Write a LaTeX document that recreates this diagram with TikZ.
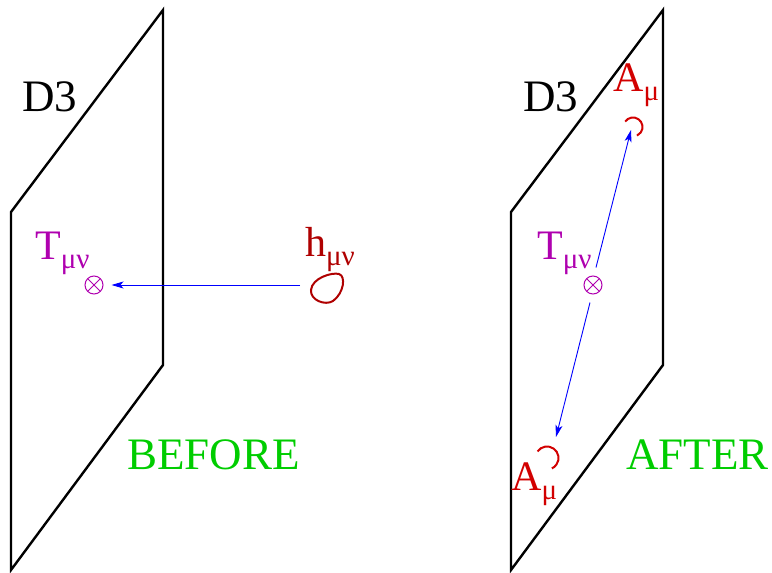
\documentclass[tikz,border=0pt]{standalone}
\usepackage{fontspec}
\setmainfont{Liberation Serif}
\usetikzlibrary{arrows.meta}
\definecolor{mag}{RGB}{175,0,175}
\definecolor{dred}{RGB}{175,0,0}
\definecolor{ared}{RGB}{210,0,0}
\definecolor{grn}{RGB}{0,205,0}
\definecolor{blu}{RGB}{0,0,255}
\newcommand{\subtxt}[1]{\raisebox{-9pt}{\fontsize{29}{32}\selectfont #1}}
\tikzset{
  plane/.style={line width=2.4pt, black},
  big/.style={font=\fontsize{45}{50}\selectfont, inner sep=0pt, anchor=base west},
  mid/.style={font=\fontsize{42}{48}\selectfont, inner sep=0pt, anchor=base west},
  flow/.style={blu, line width=0.9pt, -{Stealth[length=12pt,width=7pt,inset=3pt]}},
  otimes/.style={circle, draw=mag, line width=1pt, minimum size=18pt, inner sep=0pt,
    path picture={\draw[mag,line width=1pt] (path picture bounding box.north west) -- (path picture bounding box.south east)
      (path picture bounding box.north east) -- (path picture bounding box.south west);}},
}
\begin{document}
\begin{tikzpicture}[x=1pt,y=-1pt]
\useasboundingbox (0,0) rectangle (772,573);
% planes
\draw[plane] (11,212) -- (163,10) -- (163,365) -- (11,570) -- cycle;
\draw[plane] (511,212) -- (663,10) -- (663,365) -- (511,570) -- cycle;
% labels
\node[big] (d3a) at (22,111) {D3};
\node[big] (d3b) at (523,111) {D3};
\node[big, grn] (before) at (127,469) {BEFORE};
\node[big, grn] (after) at (626,469) {AFTER};
% left
\node[mid, mag] (ta) at (35,259) {T\subtxt{μν}};
\node[otimes] (oa) at (94,285) {};
\node[mid, dred] (h) at (305,256) {h\subtxt{μν}};
\coordinate (hs) at (300,285);
\draw[flow, shorten >=8pt] (hs) -- (oa.east);
\draw[dred, line width=2pt] (311,290) .. controls (312,278) and (332,272) .. (339,274)
  .. controls (346,276) and (344,293) .. (333,301)
  .. controls (325,306) and (310,300) .. cycle;
% right
\node[mid, mag] (tb) at (537,259) {T\subtxt{μν}};
\node[otimes] (ob) at (593,285) {};
\node[mid, ared] (at) at (613,91) {A\subtxt{μ}};
\node[mid, ared] (ab) at (511,490) {A\subtxt{μ}};
\coordinate (tt) at (631,130);
\coordinate (bb) at (556,437);
\draw[flow] (ob.north) ++(3,-8) -- (tt);
\draw[flow] (ob.south) ++(-3,8) -- (bb);
\draw[ared, line width=2pt] (633,127) ++(-145:9.5) arc[start angle=-145, end angle=65, radius=9.5];
\draw[ared, line width=2pt] (547,458) ++(-145:11.5) arc[start angle=-145, end angle=65, radius=11.5];
\end{tikzpicture}
\end{document}
